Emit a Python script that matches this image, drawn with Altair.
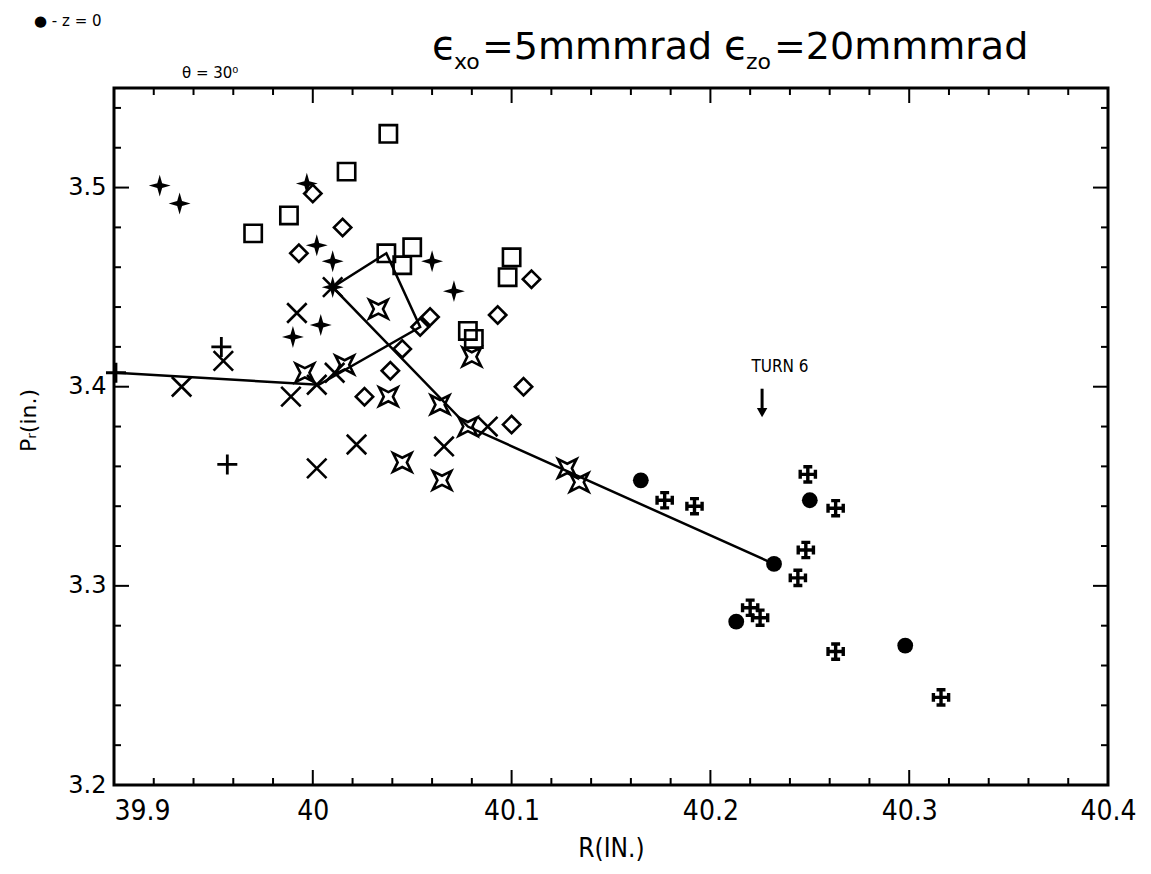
import altair as alt
import pandas as pd

# ---------------- data ----------------
# open squares
sq_r = [40.038, 40.017, 39.988, 39.970, 40.037, 40.050, 40.045, 40.100, 40.098, 40.078, 40.081]
sq_p = [3.527, 3.508, 3.486, 3.477, 3.467, 3.470, 3.461, 3.465, 3.455, 3.428, 3.424]
# open diamonds
dm_r = [40.015, 39.993, 40.000, 40.059, 40.054, 40.045, 40.039, 40.026, 40.110, 40.093, 40.106, 40.100]
dm_p = [3.480, 3.467, 3.497, 3.435, 3.430, 3.419, 3.408, 3.395, 3.454, 3.436, 3.400, 3.381]
# filled four-point stars
st_r = [39.923, 39.933, 39.997, 40.002, 40.010, 40.060, 40.071, 40.010, 40.004, 39.990]
st_p = [3.501, 3.492, 3.502, 3.471, 3.463, 3.463, 3.448, 3.450, 3.431, 3.425]
# plain plus signs
pl_r = [39.954, 39.957, 39.901]
pl_p = [3.420, 3.361, 3.407]
# crosses
x_r = [39.992, 39.955, 39.934, 39.989, 40.002, 40.011, 40.022, 40.002, 40.066, 40.088, 40.010]
x_p = [3.437, 3.413, 3.400, 3.395, 3.401, 3.407, 3.371, 3.359, 3.370, 3.380, 3.450]
# hollow four-point stars
sx_r = [40.033, 40.016, 39.996, 40.038, 40.064, 40.080, 40.078, 40.045, 40.065, 40.128, 40.134]
sx_p = [3.439, 3.411, 3.407, 3.395, 3.391, 3.415, 3.380, 3.362, 3.353, 3.359, 3.352]
# filled circles (z = 0)
ci_r = [40.165, 40.250, 40.232, 40.213, 40.298]
ci_p = [3.353, 3.343, 3.311, 3.282, 3.270]
# maltese crosses
mc_r = [40.249, 40.177, 40.192, 40.263, 40.248, 40.244, 40.220, 40.225, 40.263, 40.316]
mc_p = [3.356, 3.343, 3.340, 3.339, 3.318, 3.304, 3.289, 3.284, 3.267, 3.244]
# connecting line (in drawing order)
ln_r = [39.901, 40.003, 40.054, 40.037, 40.010, 40.078, 40.232]
ln_p = [3.407, 3.401, 3.430, 3.467, 3.450, 3.380, 3.311]

# axis ticks
x_major = [39.9, 40.0, 40.1, 40.2, 40.3, 40.4]
y_major = [3.2, 3.3, 3.4, 3.5]
x_inner_major = [40.0, 40.1, 40.2, 40.3]
x_minor = [39.92, 39.94, 39.96, 39.98, 40.02, 40.04, 40.06, 40.08, 40.12, 40.14,
           40.16, 40.18, 40.22, 40.24, 40.26, 40.28, 40.32, 40.34, 40.36, 40.38]
y_inner_major = [3.3, 3.4, 3.5]
y_minor = [3.22, 3.24, 3.26, 3.28, 3.32, 3.34, 3.36, 3.38, 3.42, 3.44, 3.46, 3.48, 3.52, 3.54]

# annotation
turn_r, turn_p = [40.235], [3.410]
arrow_r = [40.226]
arrow_top, arrow_bot = [3.399], [3.389]
arrow_head_p = [3.387]

# ---------------- layout ----------------
W, H = 994, 697
PAD_L, PAD_T = 114, 88
FONT = "DejaVu Sans"
NARROW = "Liberation Sans Narrow, DejaVu Sans Condensed, DejaVu Sans"

xsc = alt.Scale(domain=[39.9, 40.4], nice=False, zero=False)
ysc = alt.Scale(domain=[3.2, 3.55], nice=False, zero=False)

x_axis = alt.Axis(values=x_major, format="~g", title="R(IN.)", ticks=False, domain=False, grid=False,
                  labelFont=NARROW, labelFontSize=28, labelColor="black", labelPadding=12,
                  labelAlign={"condition": {"test": "datum.value < 39.95", "value": "left"}, "value": "center"},
                  titleFont=NARROW, titleFontSize=26, titleFontWeight="normal", titleColor="black",
                  titlePadding=10)
y_axis = alt.Axis(values=y_major, format=".1f", title="Pᵣ(in.)", ticks=False, domain=False, grid=False,
                  labelFont=FONT, labelFontSize=24, labelColor="black", labelPadding=8,
                  titleFont=FONT, titleFontSize=22, titleFontWeight="normal", titleColor="black",
                  titleX=-74, titleY=332)


def X(field="R"):
    return alt.X(f"{field}:Q", scale=xsc, axis=x_axis)


def Y(field="P"):
    return alt.Y(f"{field}:Q", scale=ysc, axis=y_axis)


def pts(r, p, **mark):
    df = pd.DataFrame({"R": r, "P": p})
    return alt.Chart(df).mark_point(**mark).encode(x=X(), y=Y())


STAR4 = "M0,-1L0.22,-0.22L1,0L0.22,0.22L0,1L-0.22,0.22L-1,0L-0.22,-0.22Z"
XMARK = "M-1,-1L1,1M-1,1L1,-1"
PLUS = "M-1,0L1,0M0,-1L0,1"
DSTAR = "M-1,-1L0,-0.5L1,-1L0.5,0L1,1L0,0.5L-1,1L-0.5,0Z"
MALTESE = ("M0,-1L0,1M-1,0L1,0M-0.5,-0.85L0.5,-0.85M-0.5,0.85L0.5,0.85"
           "M-0.85,-0.5L-0.85,0.5M0.85,-0.5L0.85,0.5")

layers = []

# connecting line
ln_df = pd.DataFrame({"R": ln_r, "P": ln_p, "i": list(range(len(ln_r)))})
layers.append(alt.Chart(ln_df).mark_line(color="black", strokeWidth=2.5).encode(
    x=X(), y=Y(), order="i:Q"))

# markers
layers.append(pts(sq_r, sq_p, shape="square", filled=False, color="black", size=300, strokeWidth=2.6, opacity=1))
layers.append(pts(dm_r, dm_p, shape="diamond", filled=False, color="black", size=300, strokeWidth=2.6, opacity=1))
layers.append(pts(st_r, st_p, shape=STAR4, filled=True, color="black", size=480, opacity=1))
layers.append(pts(pl_r, pl_p, shape=PLUS, filled=False, color="black", size=400, strokeWidth=2.8, opacity=1))
layers.append(pts(x_r, x_p, shape=XMARK, filled=False, color="black", size=380, strokeWidth=2.6, opacity=1))
layers.append(pts(sx_r, sx_p, shape=DSTAR, filled=False, color="black", size=340, strokeWidth=2.6, opacity=1))
layers.append(pts(ci_r, ci_p, shape="circle", filled=True, color="black", size=250, opacity=1))
layers.append(pts(mc_r, mc_p, shape=MALTESE, filled=False, color="black", size=320, strokeWidth=3.4, opacity=1))

# inward ticks
def xticks(vals, length):
    df = pd.DataFrame({"R": vals})
    bottom = alt.Chart(df).mark_rule(color="black", strokeWidth=2).encode(
        x=X(), y=alt.value(H), y2=alt.value(H - length))
    top = alt.Chart(df).mark_rule(color="black", strokeWidth=2).encode(
        x=X(), y=alt.value(0), y2=alt.value(length))
    return [bottom, top]


def yticks(vals, length):
    df = pd.DataFrame({"P": vals})
    left = alt.Chart(df).mark_rule(color="black", strokeWidth=2).encode(
        y=Y(), x=alt.value(0), x2=alt.value(length))
    right = alt.Chart(df).mark_rule(color="black", strokeWidth=2).encode(
        y=Y(), x=alt.value(W), x2=alt.value(W - length))
    return [left, right]


layers += xticks(x_inner_major, 15) + xticks(x_minor, 7)
layers += yticks(y_inner_major, 15) + yticks(y_minor, 7)

# TURN 6 annotation
layers.append(alt.Chart(pd.DataFrame({"R": turn_r, "P": turn_p, "t": ["TURN 6"]})).mark_text(
    font=NARROW, fontSize=17, color="black").encode(x=X(), y=Y(), text="t:N"))
layers.append(alt.Chart(pd.DataFrame({"R": arrow_r, "P": arrow_top, "P2": arrow_bot})).mark_rule(
    color="black", strokeWidth=3).encode(x=X(), y=Y(), y2="P2:Q"))
layers.append(pts(arrow_r, arrow_head_p, shape="triangle-down", filled=True, color="black", size=110, opacity=1))

# header texts (pixel positions relative to the plot origin)
def label(txt, x, y, size, align="left", baseline="alphabetic", weight="normal", font=FONT):
    return alt.Chart(pd.DataFrame({"t": [txt]})).mark_text(
        align=align, baseline=baseline, fontSize=size, font=font, fontWeight=weight, color="black"
    ).encode(x=alt.value(x), y=alt.value(y), text="t:N")


layers += [
    label("ϵ", 318, -29, 40),
    label("xo", 340, -19, 22),
    label("=5mmmrad", 368, -29, 38),
    label("ϵ", 610, -29, 40),
    label("zo", 632, -19, 22),
    label("=20mmmrad", 660, -29, 38),
    label("θ = 30⁰", 68, -10, 15),
    label("● - z = 0", -80, -62, 15),
]

chart = alt.layer(*layers).properties(
    width=W, height=H,
    padding={"left": PAD_L, "top": PAD_T, "right": 1151 - PAD_L - W, "bottom": 874 - PAD_T - H},
    autosize=alt.AutoSizeParams(type="none"),
    background="white",
).configure_view(stroke="black", strokeWidth=3)

chart.save("out.html", embed_options={"renderer": "svg", "actions": False})
